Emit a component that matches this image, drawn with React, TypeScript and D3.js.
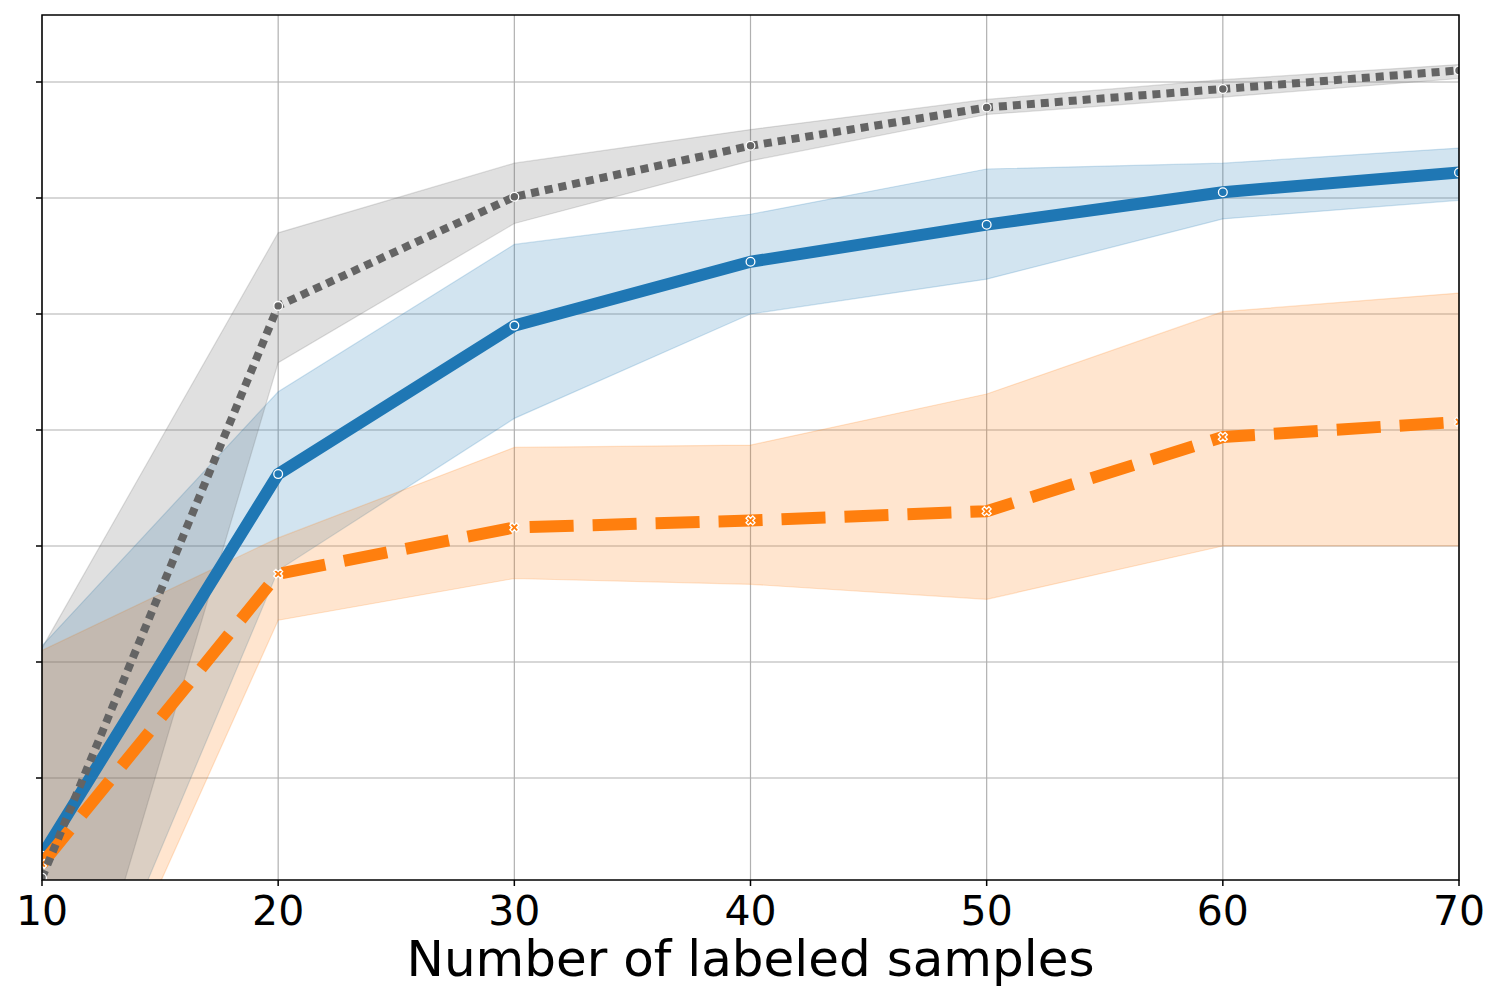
import React, { useEffect, useRef } from "react";
import * as d3 from "d3";

// values (y has no tick labels, scale chosen so gridlines are 0.4..1.0)
const samples = [10, 20, 30, 40, 50, 60, 70];
const yTicks = [0.4, 0.5, 0.6, 0.7, 0.8, 0.9, 1.0];
const xTicks = [10, 20, 30, 40, 50, 60, 70];

const blueMean = [0.333, 0.662, 0.79, 0.845, 0.877, 0.905, 0.922];
const blueLow = [0.095, 0.579, 0.71, 0.8, 0.83, 0.882, 0.898];
const blueHigh = [0.514, 0.733, 0.86, 0.886, 0.925, 0.93, 0.943];

const orangeMean = [0.326, 0.576, 0.616, 0.622, 0.63, 0.694, 0.707];
const orangeLow = [0.083, 0.536, 0.572, 0.567, 0.554, 0.6, 0.6];
const orangeHigh = [0.51, 0.607, 0.685, 0.687, 0.731, 0.802, 0.818];

const grayMean = [0.314, 0.807, 0.901, 0.945, 0.978, 0.994, 1.01];
const grayLow = [0.071, 0.758, 0.878, 0.932, 0.972, 0.987, 1.003];
const grayHigh = [0.512, 0.87, 0.93, 0.959, 0.985, 1.002, 1.015];

const xLabel = "Number of labeled samples";

interface Series {
  mean: number[];
  low: number[];
  high: number[];
  color: string;
  dash: string | null;
  width: number;
  marker: "circle" | "x";
}

const series: Series[] = [
  { mean: blueMean, low: blueLow, high: blueHigh, color: "#1f77b4", dash: null, width: 12, marker: "circle" },
  { mean: orangeMean, low: orangeLow, high: orangeHigh, color: "#ff7f0e", dash: "44,19", width: 12, marker: "x" },
  { mean: grayMean, low: grayLow, high: grayHigh, color: "#646464", dash: "8,6", width: 8, marker: "circle" },
];

export default function App() {
  const ref = useRef<SVGSVGElement>(null);

  useEffect(() => {
    const width = 1500;
    const height = 1000;
    const margin = { left: 42, right: 41, top: 15, bottom: 120 };
    const svg = d3.select(ref.current);
    svg.selectAll("*").remove();

    const x = d3
      .scaleLinear()
      .domain([10, 70])
      .range([margin.left, width - margin.right]);
    const y = d3
      .scaleLinear()
      .domain([0.4 - 102 / 1160, 0.4 + 763 / 1160])
      .range([height - margin.bottom, margin.top]);

    svg
      .append("defs")
      .append("clipPath")
      .attr("id", "plot-clip")
      .append("rect")
      .attr("x", margin.left)
      .attr("y", margin.top)
      .attr("width", width - margin.left - margin.right)
      .attr("height", height - margin.top - margin.bottom);

    // grid
    const grid = svg.append("g").attr("stroke", "#b0b0b0").attr("stroke-width", 1.2);
    grid
      .selectAll(".vgrid")
      .data(xTicks)
      .enter()
      .append("line")
      .attr("x1", (d) => x(d))
      .attr("x2", (d) => x(d))
      .attr("y1", margin.top)
      .attr("y2", height - margin.bottom);
    grid
      .selectAll(".hgrid")
      .data(yTicks)
      .enter()
      .append("line")
      .attr("x1", margin.left)
      .attr("x2", width - margin.right)
      .attr("y1", (d) => y(d))
      .attr("y2", (d) => y(d));

    const plot = svg.append("g").attr("clip-path", "url(#plot-clip)");

    // confidence bands
    series.forEach((s) => {
      const area = d3
        .area<number>()
        .x((_, i) => x(samples[i]))
        .y0((_, i) => y(s.low[i]))
        .y1((_, i) => y(s.high[i]));
      plot
        .append("path")
        .attr("d", area(s.mean))
        .attr("fill", s.color)
        .attr("fill-opacity", 0.2)
        .attr("stroke", s.color)
        .attr("stroke-opacity", 0.2)
        .attr("stroke-width", 1.2);
    });

    // mean lines with markers
    series.forEach((s) => {
      const line = d3
        .line<number>()
        .x((_, i) => x(samples[i]))
        .y((d) => y(d));
      plot
        .append("path")
        .attr("d", line(s.mean))
        .attr("fill", "none")
        .attr("stroke", s.color)
        .attr("stroke-width", s.width)
        .attr("stroke-linejoin", "round")
        .attr("stroke-dasharray", s.dash)
        .attr("stroke-linecap", "butt");

      const marks = plot
        .append("g")
        .selectAll("path")
        .data(s.mean)
        .enter()
        .append("path")
        .attr("fill", s.color)
        .attr("stroke", "white")
        .attr("stroke-width", 1.3);
      if (s.marker === "circle") {
        marks
          .attr("d", d3.symbol(d3.symbolCircle, 60)())
          .attr("transform", (d, i) => `translate(${x(samples[i])},${y(d)})`);
      } else {
        // filled X: a cross turned by 45 degrees
        marks
          .attr("d", d3.symbol(d3.symbolCross, 50)())
          .attr("transform", (d, i) => `translate(${x(samples[i])},${y(d)}) rotate(45)`);
      }
    });

    // frame
    svg
      .append("rect")
      .attr("x", margin.left)
      .attr("y", margin.top)
      .attr("width", width - margin.left - margin.right)
      .attr("height", height - margin.top - margin.bottom)
      .attr("fill", "none")
      .attr("stroke", "black")
      .attr("stroke-width", 1.5);

    // y ticks without labels
    svg
      .append("g")
      .selectAll("line")
      .data(yTicks)
      .enter()
      .append("line")
      .attr("x1", margin.left - 6)
      .attr("x2", margin.left)
      .attr("y1", (d) => y(d))
      .attr("y2", (d) => y(d))
      .attr("stroke", "black")
      .attr("stroke-width", 1.5);

    // x axis ticks and labels
    const xAxis = svg.append("g");
    xAxis
      .selectAll("line")
      .data(xTicks)
      .enter()
      .append("line")
      .attr("x1", (d) => x(d))
      .attr("x2", (d) => x(d))
      .attr("y1", height - margin.bottom)
      .attr("y2", height - margin.bottom + 6)
      .attr("stroke", "black")
      .attr("stroke-width", 1.5);
    xAxis
      .selectAll("text")
      .data(xTicks)
      .enter()
      .append("text")
      .attr("x", (d) => x(d))
      .attr("y", 925)
      .attr("text-anchor", "middle")
      .style("font-family", "DejaVu Sans")
      .style("font-size", "41px")
      .text((d) => d);

    svg
      .append("text")
      .attr("x", (margin.left + width - margin.right) / 2)
      .attr("y", 976)
      .attr("text-anchor", "middle")
      .style("font-family", "DejaVu Sans")
      .style("font-size", "50px")
      .text(xLabel);
  }, []);

  return (
    <>
      <style>{"body{margin:0;background:white}"}</style>
      <svg ref={ref} width={1500} height={1000} style={{ display: "block" }} />
    </>
  );
}
